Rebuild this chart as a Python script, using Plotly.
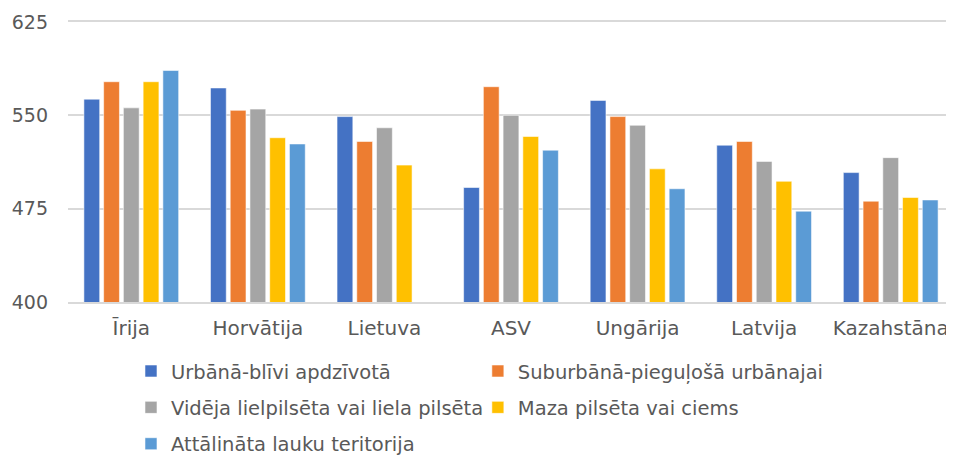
import plotly.graph_objects as go

categories = ["Īrija", "Horvātija", "Lietuva", "ASV", "Ungārija", "Latvija", "Kazahstāna"]

series_names = [
    "Urbānā-blīvi apdzīvotā",
    "Suburbānā-pieguļošā urbānajai",
    "Vidēja lielpilsēta vai liela pilsēta",
    "Maza pilsēta vai ciems",
    "Attālināta lauku teritorija",
]

urbana = [563, 572, 549, 492, 562, 526, 504]
suburbana = [577, 554, 529, 573, 549, 529, 481]
videja = [556, 555, 540, 550, 542, 513, 516]
maza = [577, 532, 510, 533, 507, 497, 484]
attalinata = [586, 527, None, 522, 491, 473, 482]

series_values = [urbana, suburbana, videja, maza, attalinata]
colors = ["#4472C4", "#ED7D31", "#A5A5A5", "#FFC000", "#5B9BD5"]
legend_ids = ["legend", "legend2", "legend", "legend2", "legend"]

y_ticks = [400, 475, 550, 625]

FONT = "DejaVu Sans"
TXT = "#595959"
GRID = "#D9D9D9"

fig = go.Figure()
for i, (name, vals) in enumerate(zip(series_names, series_values)):
    fig.add_trace(go.Bar(
        name=name,
        x=categories,
        y=vals,
        marker=dict(color=colors[i], line=dict(color="rgba(255,255,255,0.55)", width=1)),
        legend=legend_ids[i],
        legendgroup=f"g{i}",
        hoverinfo="x+y+name",
    ))

legend_common = dict(
    orientation="v",
    yanchor="top",
    y=-0.178,
    xanchor="left",
    bgcolor="rgba(0,0,0,0)",
    font=dict(family=FONT, size=19.5, color=TXT),
    tracegroupgap=8,
    itemwidth=30,
)

# page body has an 8px margin, so the figure is 8px smaller and offset
fig.update_layout(
    width=946,
    height=447,
    margin=dict(l=60, r=0, t=14, b=153, autoexpand=False),
    paper_bgcolor="white",
    plot_bgcolor="white",
    barmode="group",
    bargap=0.22,
    bargroupgap=0.2,
    font=dict(family=FONT, size=19, color=TXT),
    legend=dict(legend_common, x=0.0711),
    legend2=dict(legend_common, x=0.4626),
    xaxis=dict(
        showgrid=False,
        showline=True,
        linecolor=GRID,
        linewidth=1.5,
        mirror=True,
        ticks="",
        ticklabelstandoff=7,
        tickfont=dict(family=FONT, size=20, color=TXT),
    ),
    yaxis=dict(
        range=[400, 625],
        tickvals=y_ticks,
        ticktext=[str(v) for v in y_ticks],
        showgrid=True,
        gridcolor=GRID,
        gridwidth=1.5,
        zeroline=False,
        showline=False,
        ticks="",
        automargin=False,
        ticklabelstandoff=19,
        tickfont=dict(family=FONT, size=19, color=TXT),
    ),
)

fig.write_html("out.html")
